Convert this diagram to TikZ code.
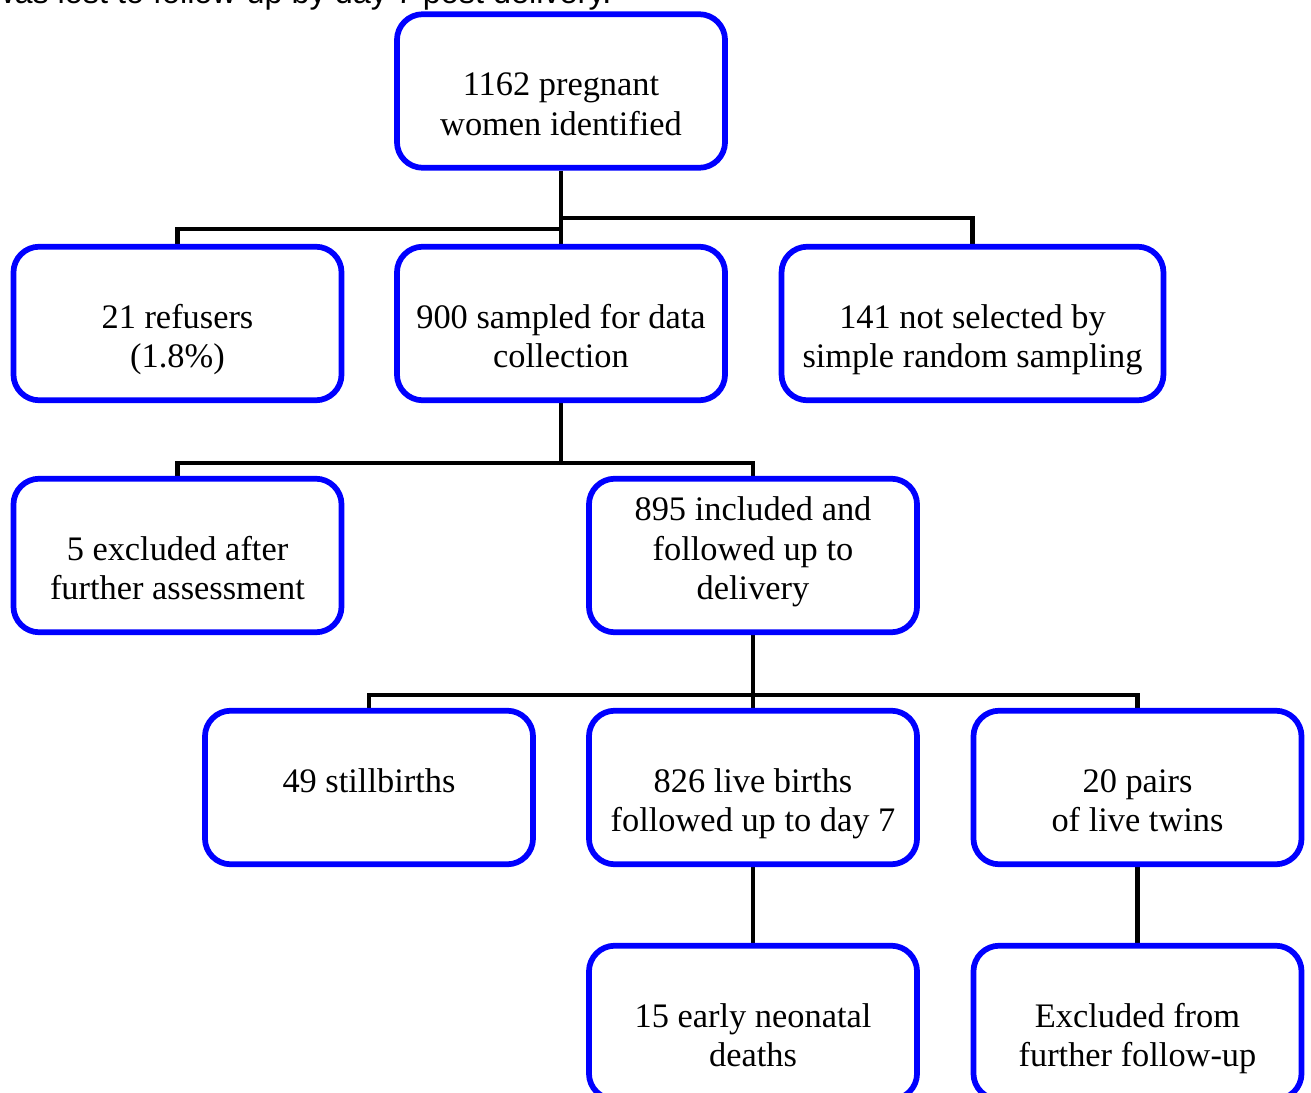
\documentclass[tikz,border=0pt]{standalone}
\usepackage{fontspec}
\setmainfont{Liberation Serif}
\newfontfamily\notefont{Liberation Sans}
\usetikzlibrary{backgrounds}
\begin{document}
\begin{tikzpicture}[x=0.349pt,y=-0.349pt,
  flowbox/.style={draw=blue, fill=white, line width=2pt, rounded corners=9pt, inner sep=0pt,
    execute at begin node={\begin{minipage}[c][42.3pt][b]{#1}\fontsize{12}{13.9}\selectfont\centering},
    execute at end node={\rule[-11.3pt]{0pt}{0pt}\end{minipage}}},
  flowbox/.default=114.5pt,
  link/.style={line width=1.7pt}]
\useasboundingbox (0,0) rectangle (1311,1093);
\node[anchor=base east, inner sep=0pt, font=\notefont\fontsize{11.3}{13}\selectfont] (lostnote) at (612,4) {was lost to follow-up by day 7 post delivery.};
\node[flowbox] (identified) at (561,91) {1162 pregnant\\women identified};
\node[flowbox] (refusers) at (177.5,323.5) {21 refusers\\(1.8\%)};
\node[flowbox] (sampled) at (561,323.5) {900 sampled for data\\collection};
\node[flowbox=133.3pt] (notselected) at (972.5,323.5) {141 not selected by\\simple random sampling};
\node[flowbox] (excluded) at (177.5,555.5) {5 excluded after\\further assessment};
\node[flowbox] (included) at (753,555.5) {895 included and\\followed up to\\delivery};
\node[flowbox] (stillbirths) at (369,787.5) {49 stillbirths\\};
\node[flowbox] (livebirths) at (753,787.5) {826 live births\\followed up to day 7};
\node[flowbox] (twins) at (1137.5,787.5) {20 pairs\\of live twins};
\node[flowbox] (deaths) at (753,1022.5) {15 early neonatal\\deaths};
\node[flowbox] (furtherfu) at (1137.5,1022.5) {Excluded from\\further follow-up};
\coordinate (splitleft) at (561,229);
\coordinate (splitright) at (561,218);
\coordinate (splitsampled) at (561,463);
\coordinate (splitincluded) at (753,695);
\begin{scope}[on background layer]
\draw[link] (identified.south) -- (sampled.north);
\draw[link] (splitleft) -| (refusers.north);
\draw[link] (splitright) -| (notselected.north);
\draw[link] (sampled.south) -- (splitsampled);
\draw[link] (excluded.north) |- (splitsampled) -| (included.north);
\draw[link] (included.south) -- (livebirths.north);
\draw[link] (stillbirths.north) |- (splitincluded) -| (twins.north);
\draw[link] (livebirths.south) -- (deaths.north);
\draw[link] (twins.south) -- (furtherfu.north);
\end{scope}
\end{tikzpicture}
\end{document}
